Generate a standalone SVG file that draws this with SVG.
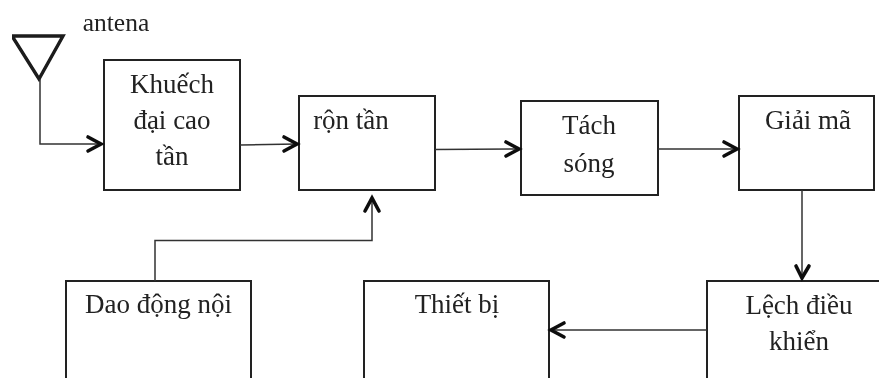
<svg xmlns="http://www.w3.org/2000/svg" width="879" height="378" viewBox="0 0 879 378">
<style>
.b{fill:#fff;stroke:#222;stroke-width:2}
.c{fill:none;stroke:#333;stroke-width:1.5}
.a{fill:none;stroke:#111;stroke-width:3.6;stroke-linecap:round;stroke-linejoin:miter}
text{font-family:"Liberation Serif","Noto Sans",serif;font-size:27px;fill:#222;text-anchor:middle}
</style>
<defs><filter id="s" x="0" y="0" width="1" height="1"><feGaussianBlur stdDeviation="0.4"/></filter></defs>
<rect width="879" height="378" fill="#fff"/>
<g filter="url(#s)">
<g id="antenna"><polygon points="12,36 63,36 39,79" fill="none" stroke="#1a1a1a" stroke-width="3.4"/><text x="116" y="31" style="font-size:25.5px">antena</text></g>
<g id="n1"><rect class="b" x="104" y="60" width="136" height="130"/><text x="172" y="93">Khuếch</text><text x="172" y="129">đại cao</text><text x="172" y="165">tần</text></g>
<g id="n2"><rect class="b" x="299" y="96" width="136" height="94"/><text x="351" y="129">rộn tần</text></g>
<g id="n3"><rect class="b" x="521" y="101" width="137" height="94"/><text x="589" y="134">Tách</text><text x="589" y="172">sóng</text></g>
<g id="n4"><rect class="b" x="739" y="96" width="135" height="94"/><text x="808" y="129">Giải mã</text></g>
<g id="n5"><path class="b" d="M66,378V281H251V378"/><text x="158.5" y="313">Dao động nội</text></g>
<g id="n6"><path class="b" d="M364,378V281H549V378"/><text x="457" y="313">Thiết bị</text></g>
<g id="n7"><path class="b" d="M707,378V281H879"/><text x="799" y="314">Lệch điều</text><text x="799" y="350">khiển</text></g>
<g id="connectors">
<path class="c" d="M40,79V144H102"/><path class="a" d="M88,137L101,144L88,151"/>
<path class="c" d="M240,145L297,144"/><path class="a" d="M284,137L297,144L284,151"/>
<path class="c" d="M435,149.500L519,149"/><path class="a" d="M506,142L519,149L506,156"/>
<path class="c" d="M658,149H737"/><path class="a" d="M724,142L737,149L724,156"/>
<path class="c" d="M802,190V279"/><path class="a" d="M796,266L802,278L809,266"/>
<path class="c" d="M707,330H551"/><path class="a" d="M564,323L551,330L564,337"/>
<path class="c" d="M155,281V240.500H372V198"/><path class="a" d="M365,211L372,198L379,211"/>
</g>
</g>
</svg>
